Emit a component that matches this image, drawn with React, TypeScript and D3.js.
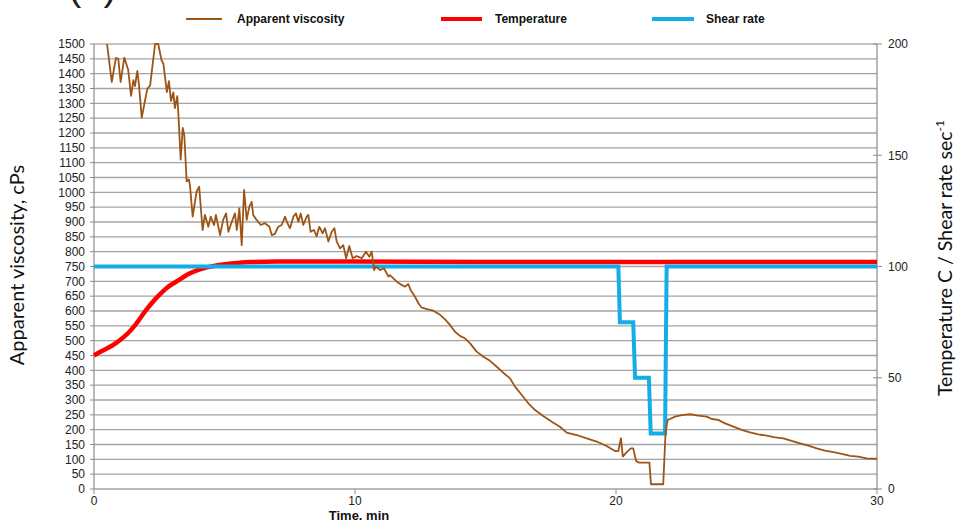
import React from "react";
import * as d3 from "d3";

// Apparent viscosity (cP) over time (min)
const viscTime = [
  0.5, 0.68, 0.84, 0.93, 1.02, 1.16, 1.31, 1.42, 1.51, 1.57, 1.66, 1.72, 1.83, 2.04, 2.15,
  2.34, 2.46, 2.59, 2.66, 2.79, 2.87, 2.95, 3.04, 3.1, 3.19, 3.23, 3.32, 3.4, 3.46, 3.55,
  3.64, 3.68, 3.78, 3.93, 4.03, 4.16, 4.25, 4.38, 4.47, 4.6, 4.67, 4.83, 4.95, 5.06, 5.15,
  5.28, 5.4, 5.47, 5.57, 5.66, 5.75, 5.85, 5.95, 6.04, 6.1, 6.23, 6.39, 6.55, 6.72, 6.81,
  6.93, 7.06, 7.19, 7.32, 7.41, 7.51, 7.64, 7.74, 7.83, 7.92, 8.02, 8.15, 8.21, 8.3, 8.43,
  8.53, 8.63, 8.76, 8.85, 8.98, 9.11, 9.21, 9.3, 9.43, 9.55, 9.66, 9.78, 9.91, 10.06, 10.26,
  10.42, 10.55, 10.64, 10.73, 10.8, 10.96, 11.11, 11.28, 11.34, 11.6, 11.79, 11.92, 12.04,
  12.13, 12.3, 12.43, 12.55, 12.75, 13.0, 13.26, 13.45, 13.64, 13.83, 14.02, 14.21, 14.41,
  14.66, 14.92, 15.17, 15.43, 15.68, 15.94, 16.13, 16.39, 16.64, 16.9, 17.21, 17.54, 17.85,
  18.11, 18.49, 18.88, 19.26, 19.64, 19.96, 20.09, 20.19, 20.26, 20.41, 20.57, 20.66, 20.77,
  20.89, 21.28, 21.34, 21.81, 21.9, 21.98, 22.07, 22.26, 22.52, 22.84, 23.15, 23.48, 23.67,
  23.92, 24.18, 24.5, 24.82, 25.13, 25.45, 25.77, 26.09, 26.41, 26.73, 27.05, 27.37, 27.69,
  28.0, 28.33, 28.65, 28.97, 29.28, 29.6, 30.0,
];
const viscValue = [
  1500, 1372, 1453, 1450, 1372, 1454, 1413, 1325, 1378, 1358, 1409, 1365, 1252, 1348, 1360,
  1500, 1500, 1445, 1433, 1338, 1375, 1308, 1337, 1284, 1324, 1270, 1110, 1217, 1193, 1037,
  1043, 1020, 918, 1002, 1019, 873, 924, 884, 918, 890, 924, 856, 907, 929, 867,
  901, 929, 873, 946, 822, 1008, 907, 952, 968, 924, 907, 890, 896, 884, 856,
  860, 884, 890, 918, 896, 879, 918, 929, 901, 929, 890, 918, 924, 867, 873,
  851, 884, 862, 879, 834, 867, 879, 834, 811, 822, 778, 819, 778, 785, 778,
  800, 783, 800, 738, 750, 738, 744, 716, 721, 699, 688, 682, 691,
  671, 648, 626, 612, 606, 601, 587, 572, 553, 530, 516, 508, 491,
  463, 446, 432, 412, 392, 373, 345, 317, 289, 266, 246, 227, 210,
  190, 182, 171, 160, 145, 128, 128, 171, 109, 124, 137, 137, 94,
  89, 89, 16, 16, 193, 233, 236, 244, 249, 252, 247, 244, 236,
  233, 221, 210, 199, 191, 184, 180, 174, 171, 162, 154, 146, 137,
  129, 124, 118, 112, 109, 103, 102,
];

// Temperature (C) over time (min)
const tempTime = [0, 0.3, 0.7, 1.0, 1.3, 1.6, 2.0, 2.4, 2.8, 3.2, 3.6, 4.0, 4.5, 5.0, 5.5, 6.0, 7.0, 10, 15, 20, 25, 30];
const tempValue = [60, 62, 64.5, 67, 70, 74, 80.5, 86, 90.5, 93.5, 96.5, 98.5, 100, 101, 101.6, 102, 102.2, 102.2, 102, 102, 102, 102];

// Shear rate (1/s) over time (min)
const shearTime = [0, 20.09, 20.15, 20.66, 20.73, 21.26, 21.33, 21.88, 21.94, 30];
const shearValue = [100, 100, 75, 75, 50, 50, 25, 25, 100, 100];

const viscTicks = d3.range(0, 1501, 50);
const rightTicks = [0, 50, 100, 150, 200];
const timeTicks = [0, 10, 20, 30];

const W = 957;
const H = 520;
const plot = { left: 94, right: 877, top: 44, bottom: 489 };

const colors = { visc: "#9c5516", temp: "#ff0000", shear: "#13aee6" };

export default function App() {
  const x = d3.scaleLinear().domain([0, 30]).range([plot.left, plot.right]);
  const yL = d3.scaleLinear().domain([0, 1500]).range([plot.bottom, plot.top]);
  const yR = d3.scaleLinear().domain([0, 200]).range([plot.bottom, plot.top]);

  const visc = viscTime.map((t, i) => [t, viscValue[i]] as [number, number]);
  const temp = tempTime.map((t, i) => [t, tempValue[i]] as [number, number]);
  const shear = shearTime.map((t, i) => [t, shearValue[i]] as [number, number]);

  const viscLine = d3.line<[number, number]>().x((d) => x(d[0])).y((d) => yL(d[1]));
  const tempLine = d3
    .line<[number, number]>()
    .x((d) => x(d[0]))
    .y((d) => yR(d[1]))
    .curve(d3.curveMonotoneX);
  const shearLine = d3.line<[number, number]>().x((d) => x(d[0])).y((d) => yR(d[1]));

  const tickFont = "'Liberation Sans', Arial, sans-serif";
  const titleFont = "Lato, 'Open Sans', sans-serif";

  return (
    <div style={{ position: "absolute", left: 0, top: 0 }}>
      <svg width={W} height={H} style={{ display: "block", background: "#fff" }}>
        <text x={68} y={0} fontFamily={tickFont} fontSize={40} fill="#222">
          (b)
        </text>

        {/* gridlines */}
        {viscTicks.map((v) => (
          <line
            key={"g" + v}
            x1={plot.left}
            x2={plot.right}
            y1={yL(v)}
            y2={yL(v)}
            stroke={v === 1500 ? "#c4c4c4" : "#a3a3a3"}
            strokeWidth={v === 1500 ? 2 : 1.4}
          />
        ))}

        {/* left axis */}
        <line x1={plot.left} x2={plot.left} y1={plot.top} y2={plot.bottom} stroke="#8c8c8c" strokeWidth={1.2} />
        {viscTicks.map((v) => (
          <g key={"l" + v}>
            <line x1={plot.left - 4} x2={plot.left} y1={yL(v)} y2={yL(v)} stroke="#8c8c8c" strokeWidth={1} />
            <text
              x={plot.left - 9}
              y={yL(v)}
              dy="0.36em"
              textAnchor="end"
              fontFamily={tickFont}
              fontSize={12}
              fill="#222"
            >
              {v}
            </text>
          </g>
        ))}

        {/* right axis */}
        <line x1={plot.right} x2={plot.right} y1={plot.top} y2={plot.bottom} stroke="#8c8c8c" strokeWidth={1.2} />
        {rightTicks.map((v) => (
          <g key={"r" + v}>
            <line x1={plot.right - 4} x2={plot.right + 5} y1={yR(v)} y2={yR(v)} stroke="#8c8c8c" strokeWidth={1} />
            <text x={plot.right + 11} y={yR(v)} dy="0.36em" fontFamily={tickFont} fontSize={12} fill="#222">
              {v}
            </text>
          </g>
        ))}

        {/* bottom axis */}
        {timeTicks.map((t) => (
          <g key={"t" + t}>
            <line x1={x(t)} x2={x(t)} y1={plot.bottom} y2={plot.bottom + 5} stroke="#8c8c8c" strokeWidth={1} />
            <text x={x(t)} y={plot.bottom + 16} textAnchor="middle" fontFamily={tickFont} fontSize={12} fill="#222">
              {t}
            </text>
          </g>
        ))}
        <text
          x={359}
          y={520}
          textAnchor="middle"
          fontFamily={tickFont}
          fontSize={13}
          fontWeight="bold"
          fill="#111"
        >
          Time, min
        </text>

        {/* axis titles */}
        <text
          transform={`translate(24, 265) rotate(-90)`}
          textAnchor="middle"
          fontFamily={titleFont}
          fontSize={20}
          fill="#111"
        >
          Apparent viscosity, cPs
        </text>
        <text
          transform={`translate(952, 258) rotate(-90)`}
          textAnchor="middle"
          fontFamily={titleFont}
          fontSize={19.5}
          fill="#111"
        >
          Temperature C / Shear rate sec
          <tspan dy={-8} fontSize={12}>
            -1
          </tspan>
        </text>

        {/* series */}
        <path d={tempLine(temp) ?? ""} fill="none" stroke={colors.temp} strokeWidth={4.5} />
        <path d={shearLine(shear) ?? ""} fill="none" stroke={colors.shear} strokeWidth={4} strokeLinejoin="miter" />
        <path d={viscLine(visc) ?? ""} fill="none" stroke={colors.visc} strokeWidth={1.8} strokeLinejoin="round" />

        {/* legend */}
        <g fontFamily={tickFont} fontSize={12} fontWeight="bold" fill="#111">
          <line x1={186} x2={222} y1={19} y2={19} stroke={colors.visc} strokeWidth={2} />
          <text x={237} y={23}>Apparent viscosity</text>
          <line x1={441} x2={482} y1={19} y2={19} stroke={colors.temp} strokeWidth={4} />
          <text x={495} y={23}>Temperature</text>
          <line x1={652} x2={694} y1={19} y2={19} stroke={colors.shear} strokeWidth={4} />
          <text x={706} y={23}>Shear rate</text>
        </g>
      </svg>
    </div>
  );
}
